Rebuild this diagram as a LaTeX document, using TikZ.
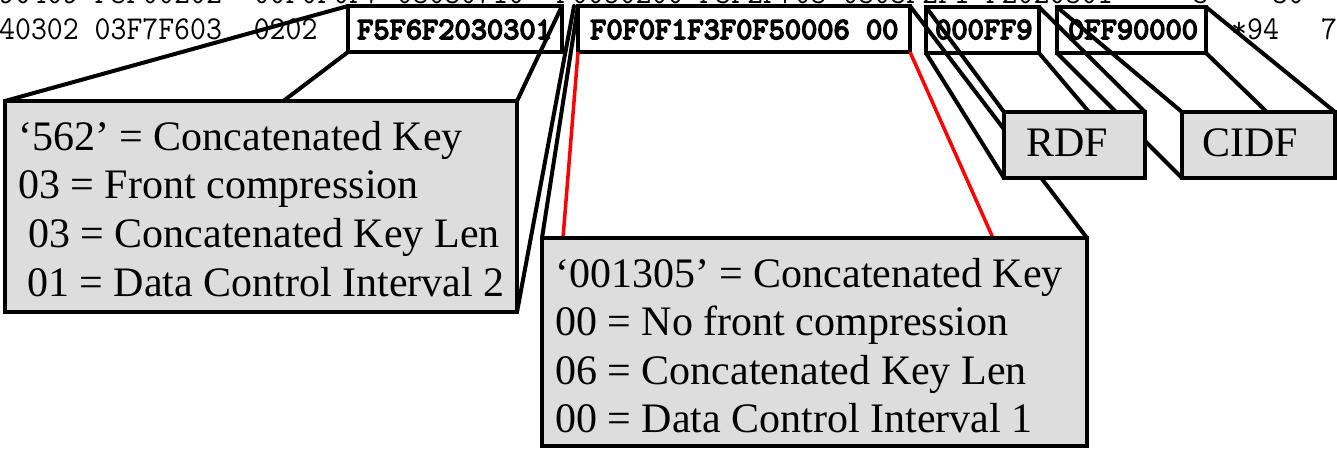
\documentclass[tikz,border=0pt]{standalone}
\usepackage{graphicx}
\usepackage{fontspec}
\setmainfont{Liberation Serif}
\newfontfamily\hexbf{lmmono10-regular}[Extension=.otf, FakeBold=5]
\definecolor{boxgray}{RGB}{221,221,221}
\definecolor{linkred}{RGB}{255,0,0}
\newcommand{\tallhex}[1]{\scalebox{1}[1.08]{#1}}
\tikzset{
  hexbox/.style={draw=black, fill=white, line width=4pt, inner sep=0pt, outer sep=0pt, anchor=north west},
  notebox/.style={draw=black, fill=boxgray, line width=4pt, inner sep=0pt, outer sep=0pt, anchor=north west},
  bghex/.style={anchor=base west, inner sep=0pt, font=\fontsize{30.9}{36}\selectfont\ttfamily},
  hexlabel/.style={anchor=base west, inner sep=0pt, font=\fontsize{30.9}{36}\selectfont\hexbf},
  note/.style={anchor=base west, inner sep=0pt, font=\fontsize{42}{48}\selectfont},
  link/.style={draw=black, line width=4pt, line cap=round},
  redlink/.style={draw=linkred, line width=3.5pt},
}
\begin{document}
\begin{tikzpicture}[x=1pt,y=-1pt]
\path[fill=white] (0,0) rectangle (1337,448);
\useasboundingbox (0,0) rectangle (1337,448);

% background hex dump rows
\node[bghex] (row1) at (-1,3.5) {\tallhex{90409 F3F00202~ 00F0F0F7 03030710~ F0050200 F3F2F703 0303F2F1 F2020301~~~~ 3~~~ 30}};
\node[bghex] (row2a) at (-1,39) {\tallhex{40302 03F7F603~ 0202}};
\node[bghex] (row2b) at (1231,39) {\tallhex{*94}};
\node[bghex] (row2c) at (1321,39) {\tallhex{76}};

% highlighted fields
\node[hexbox, minimum width=214pt, minimum height=46pt] (A) at (348,6) {};
\node[hexbox, minimum width=332pt, minimum height=46pt] (B) at (578,6) {};
\node[hexbox, minimum width=113pt, minimum height=46pt] (C) at (926,7) {};
\node[hexbox, minimum width=149pt, minimum height=46pt] (D) at (1057,7) {};
\node[hexlabel] (At) at (357,39) {F5F6F2030301};
\node[hexlabel] (Bt) at (590,39) {F0F0F1F3F0F50006 00};
\node[hexlabel] (Ct) at (935,39) {000FF9};
\node[hexlabel] (Dt) at (1068,39) {0FF90000};

% coordinates of free ends
\coordinate (aR) at (574,6);
\coordinate (fL) at (563,238);
\coordinate (fR) at (993,238);

% corners of the explanation boxes
\path (5,101) coordinate (Enw) (517,101) coordinate (Ene) (5,312) coordinate (Esw) (517,312) coordinate (Ese);
\path (542,238) coordinate (Fnw) (1087,238) coordinate (Fne);
\path (1004,112) coordinate (Gnw) (1145,112) coordinate (Gne) (1004,178) coordinate (Gsw) (1145,178) coordinate (Gse);
\path (1182,112) coordinate (Hnw) (1335,112) coordinate (Hne) (1182,178) coordinate (Hsw) (1335,178) coordinate (Hse);

% connectors A -> E
\draw[link] (A.north west) -- (Enw);
\draw[link] (A.south west) -- (Esw);
\draw[link] (A.north east) -- (Ene);
\draw[link] (aR) -- (Ese);
% connectors B -> F
\draw[link] (B.north west) -- (Fnw);
\draw[link] (B.north east) -- (Fne);
\draw[redlink] (B.south west) -- (fL);
\draw[redlink] (B.south east) -- (fR);
% connectors C -> G
\draw[link] (C.north west) -- (Gnw);
\draw[link] (C.south west) -- (Gsw);
\draw[link] (C.north east) -- (Gne);
\draw[link] (C.south east) -- (Gse);
% connectors D -> H
\draw[link] (D.north west) -- (Hnw);
\draw[link] (D.south west) -- (Hsw);
\draw[link] (D.north east) -- (Hne);
\draw[link] (D.south east) -- (Hse);

% lower boxes
\node[notebox, minimum width=512pt, minimum height=211pt] (E) at (Enw) {};
\node[notebox, minimum width=545pt, minimum height=208pt] (F) at (Fnw) {};
\node[notebox, minimum width=141pt, minimum height=66pt] (G) at (Gnw) {};
\node[notebox, minimum width=153pt, minimum height=66pt] (H) at (Hnw) {};

\node[note] (E1) at (18,150) {‘562’ = Concatenated Key};
\node[note] (E2) at (18,198) {03 = Front compression};
\node[note] (E3) at (28,247) {03 = Concatenated Key Len};
\node[note] (E4) at (27,296) {01 = Data Control Interval 2};

\node[note] (F1) at (555,287) {‘001305’ = Concatenated Key};
\node[note] (F2) at (555,335) {00 = No front compression};
\node[note] (F3) at (555,384) {06 = Concatenated Key Len};
\node[note] (F4) at (555,432) {00 = Data Control Interval 1};

\node[note, anchor=center] (Gt) at (1067,143) {RDF};
\node[note, anchor=center] (Ht) at (1250,143) {CIDF};
\end{tikzpicture}
\end{document}
